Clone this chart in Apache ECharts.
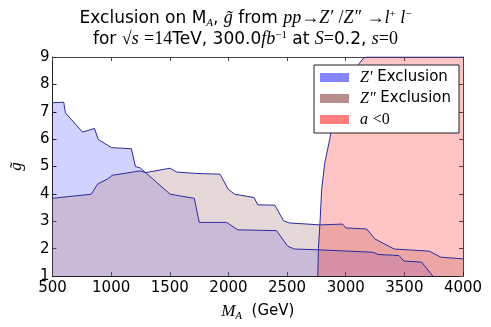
<!DOCTYPE html>
<html>
<head>
<meta charset="utf-8">
<script src="https://cdn.jsdelivr.net/npm/echarts@6/dist/echarts.min.js"></script>
<style>
  html, body { margin: 0; padding: 0; background: #fff; }
  #chart { width: 491px; height: 327px; }
</style>
</head>
<body>
<div id="chart"></div>
<script>
// Z' exclusion boundary [M_A (GeV), g~]
const zPrime = [
  [500, 7.33], [596, 7.35], [610, 6.96], [756, 6.26], [858, 6.39], [890, 5.99],
  [1003, 5.69], [1173, 5.65], [1207, 5.0], [1245, 4.96], [1503, 3.99], [1709, 3.84],
  [1751, 2.96], [1984, 2.96], [2080, 2.69], [2410, 2.66], [2506, 2.09], [2561, 1.99],
  [2767, 1.96], [3234, 1.87], [3276, 1.79], [3454, 1.75], [3496, 1.55], [3647, 1.51],
  [3743, 1.0]
];

// Z'' exclusion boundary
const zDoublePrime = [
  [500, 3.84], [830, 3.99], [885, 4.36], [967, 4.54], [1009, 4.68], [1245, 4.84],
  [1297, 4.78], [1503, 4.94], [1558, 4.80], [1718, 4.75], [1929, 4.72], [1998, 4.17],
  [2053, 3.99], [2218, 3.87], [2251, 3.60], [2396, 3.59], [2470, 3.02], [2520, 2.94],
  [2781, 2.87], [2973, 2.90], [3001, 2.76], [3179, 2.72], [3248, 2.36], [3413, 1.99],
  [3715, 1.91], [3811, 1.69], [4000, 1.63]
];

// a < 0 region boundary
const aNegative = [
  [2762, 1.0], [2767, 2.0], [2781, 2.96], [2795, 4.17], [2822, 5.15], [2864, 6.0],
  [2891, 6.66], [2950, 7.45], [3020, 8.1], [3097, 8.66], [3152, 8.96], [3179, 9.0],
  [4000, 9.0]
];

const xTicks = [500, 4000, 500];  // min, max, step
const yTicks = [1, 9, 1];

const sans = 'DejaVu Sans';
const serif = 'Liberation Serif';
const edge = '#2b2b9c';

function mathStyles(size, lh) {
  return {
    m: { fontFamily: serif, fontStyle: 'italic', fontSize: size, lineHeight: lh },
    r: { fontFamily: serif, fontSize: size, lineHeight: lh },
    sub: { fontFamily: serif, fontStyle: 'italic', fontSize: Math.round(size * 0.62), lineHeight: lh, verticalAlign: 'bottom' },
    sup: { fontFamily: serif, fontSize: Math.round(size * 0.62), lineHeight: lh, verticalAlign: 'top', padding: [1, 0, 0, 0] }
  };
}

const chart = echarts.init(document.getElementById('chart'));

const option = {
  animation: false,
  title: {
    text: 'Exclusion on M{sub|A}, {m|g̃} from {m|pp}{r|→}{m|Z′} {r|/}{m|Z″} {r|→}{m|l}{sup|+}{m| l}{sup|−}\n' +
          'for {r|√}{m|s} {r|=14}TeV, 300.0{m|fb}{sup|−1} at {m|S}{r|=}0.2, {m|s}{r|=0}',
    left: 'center',
    top: 3,
    textStyle: {
      fontFamily: sans,
      fontWeight: 'normal',
      fontSize: 17,
      lineHeight: 21,
      color: '#000',
      rich: mathStyles(18, 21)
    }
  },
  legend: {
    orient: 'vertical',
    left: 314,
    top: 65,
    width: 142,
    padding: [4, 8, 5, 6],
    itemWidth: 29,
    itemHeight: 9,
    itemGap: 4,
    backgroundColor: '#fff',
    borderColor: '#222',
    borderWidth: 1,
    textStyle: {
      fontFamily: sans,
      fontSize: 15,
      color: '#000',
      lineHeight: 17,
      padding: [0, 0, 0, 6],
      rich: mathStyles(16, 17)
    },
    data: [
      { name: 'Zp', icon: 'rect', itemStyle: { color: 'rgba(110,110,255,0.85)', borderWidth: 0 } },
      { name: 'Zpp', icon: 'rect', itemStyle: { color: 'rgba(175,130,130,0.9)', borderWidth: 0 } },
      { name: 'aneg', icon: 'rect', itemStyle: { color: 'rgba(255,120,120,0.95)', borderWidth: 0 } }
    ],
    formatter: function (name) {
      if (name === 'Zp') return '{m|Z′} Exclusion';
      if (name === 'Zpp') return '{m|Z″} Exclusion';
      return '{m|a} {r|<0}';
    }
  },
  grid: { left: 38, right: 28, top: 57, bottom: 50 },
  xAxis: [
    {
      type: 'value',
      min: xTicks[0], max: xTicks[1], interval: xTicks[2],
      name: '{m|M}{sub|A}  (GeV)',
      nameLocation: 'middle',
      nameGap: 24,
      nameTextStyle: { fontFamily: sans, fontSize: 15, color: '#000', lineHeight: 21, rich: mathStyles(17, 21) },
      axisLine: { lineStyle: { color: '#222', width: 1 } },
      axisTick: { inside: true, length: 4, lineStyle: { color: '#222' } },
      axisLabel: { fontFamily: sans, fontSize: 15, color: '#000', margin: 5, formatter: v => String(v) },
      splitLine: { show: false }
    },
    {
      type: 'value', position: 'top',
      min: xTicks[0], max: xTicks[1], interval: xTicks[2],
      axisLine: { lineStyle: { color: '#444', width: 1 } },
      axisTick: { inside: true, length: 4, lineStyle: { color: '#444' } },
      axisLabel: { show: false },
      splitLine: { show: false }
    }
  ],
  yAxis: [
    {
      type: 'value',
      min: yTicks[0], max: yTicks[1], interval: yTicks[2],
      name: '{m|g̃}',
      nameLocation: 'middle',
      nameRotate: 90,
      nameGap: 26,
      nameTextStyle: { fontFamily: serif, fontSize: 16, color: '#000', rich: mathStyles(17, 20) },
      axisLine: { lineStyle: { color: '#222', width: 1 } },
      axisTick: { inside: true, length: 4, lineStyle: { color: '#222' } },
      axisLabel: { fontFamily: sans, fontSize: 15, color: '#000', margin: 3 },
      splitLine: { show: false }
    },
    {
      type: 'value', position: 'right',
      min: yTicks[0], max: yTicks[1], interval: yTicks[2],
      axisLine: { lineStyle: { color: '#444', width: 1 } },
      axisTick: { inside: true, length: 4, lineStyle: { color: '#444' } },
      axisLabel: { show: false },
      splitLine: { show: false }
    }
  ],
  series: [
    {
      name: 'Zp',
      type: 'line',
      data: zPrime,
      symbol: 'none',
      lineStyle: { color: edge, width: 1 },
      itemStyle: { color: 'rgba(110,110,255,0.85)' },
      areaStyle: { color: 'rgba(0,0,255,0.25)', origin: 'start' }
    },
    {
      name: 'Zpp',
      type: 'line',
      data: zDoublePrime,
      symbol: 'none',
      lineStyle: { color: edge, width: 1 },
      itemStyle: { color: 'rgba(175,130,130,0.9)' },
      areaStyle: { color: 'rgba(185,145,145,0.5)', origin: 'start' }
    },
    {
      name: 'aneg',
      type: 'line',
      data: aNegative,
      symbol: 'none',
      lineStyle: { color: edge, width: 1 },
      itemStyle: { color: 'rgba(255,120,120,0.95)' },
      areaStyle: { color: 'rgba(255,0,0,0.33)', origin: 'start' }
    }
  ]
};

chart.setOption(option);
</script>
</body>
</html>
